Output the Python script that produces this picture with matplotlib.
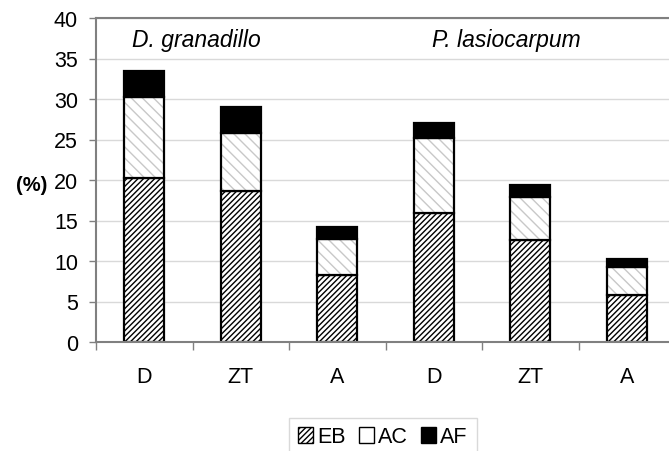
import matplotlib
matplotlib.use('Agg')
import matplotlib.pyplot as plt
from matplotlib.patches import Patch
import numpy as np

plt.rcParams['font.family'] = ['Liberation Sans', 'DejaVu Sans']

categories = ['D', 'ZT', 'A', 'D', 'ZT', 'A']
eb = [20.2, 18.7, 8.3, 15.9, 12.6, 5.8]
ac = [10.0, 7.1, 4.4, 9.3, 5.3, 3.4]
af = [3.3, 3.2, 1.5, 1.8, 1.5, 1.0]
groups = ['D. granadillo', 'P. lasiocarpum']

eb = np.array(eb)
ac = np.array(ac)
af = np.array(af)
x = np.arange(len(categories))
w = 0.415

fig = plt.figure(figsize=(6.69, 4.52), dpi=100)
ax = fig.add_axes([96/669, (452-343)/452, 579/669, (343-19)/452])

ax.set_ylim(0, 40)
ax.set_xlim(-0.5, 5.5)
ax.set_yticks(np.arange(0, 41, 5))
ax.yaxis.grid(True, color='#d9d9d9', lw=1)
ax.set_axisbelow(True)

# EB
ax.bar(x, eb, w, color='white', edgecolor='black', hatch='//////', lw=0)
ax.bar(x, eb, w, fill=False, edgecolor='black', lw=1.6)
# AC
ax.bar(x, ac, w, bottom=eb, color='white', edgecolor='#c8c8c8', hatch='\\\\\\', lw=0)
ax.bar(x, ac, w, bottom=eb, fill=False, edgecolor='black', lw=1.6)
# AF
ax.bar(x, af, w, bottom=eb + ac, color='black', edgecolor='black', lw=1.6)

for s in ['left', 'top', 'bottom', 'right']:
    ax.spines[s].set_color('#808080')
    ax.spines[s].set_linewidth(1.5)

ax.set_xticks(x)
ax.set_xticklabels(categories, fontsize=15.5)
ax.set_xticks(np.arange(-0.5, 6, 1), minor=True)
ax.tick_params(axis='x', which='major', length=0, pad=17)
ax.tick_params(axis='x', which='minor', length=6, color='#808080', width=1)
ax.tick_params(axis='y', labelsize=15.5, length=5, color='#808080', width=1, pad=8)

ax.text(0.536, 36.6, groups[0], style='italic', fontsize=16.5, ha='center', va='baseline')
ax.text(3.756, 36.6, groups[1], style='italic', fontsize=16.5, ha='center', va='baseline')
fig.text(32/669, 1 - 186/452, '(%)', fontweight='bold', fontsize=14.5, ha='center', va='center')

handles = [Patch(facecolor='white', edgecolor='black', hatch='//////'),
           Patch(facecolor='white', edgecolor='black'),
           Patch(facecolor='black', edgecolor='black')]
leg = fig.legend(handles, ['EB', 'AC', 'AF'], loc='center', bbox_to_anchor=(383/669, 1 - 438/452),
                 ncol=3, fontsize=15.5, frameon=True, fancybox=False, edgecolor='#d0d0d0',
                 handlelength=0.7, handleheight=0.7, handletextpad=0.2, columnspacing=0.6,
                 borderpad=0.4)
leg.get_frame().set_linewidth(1)

fig.savefig('out.png', dpi=100)
